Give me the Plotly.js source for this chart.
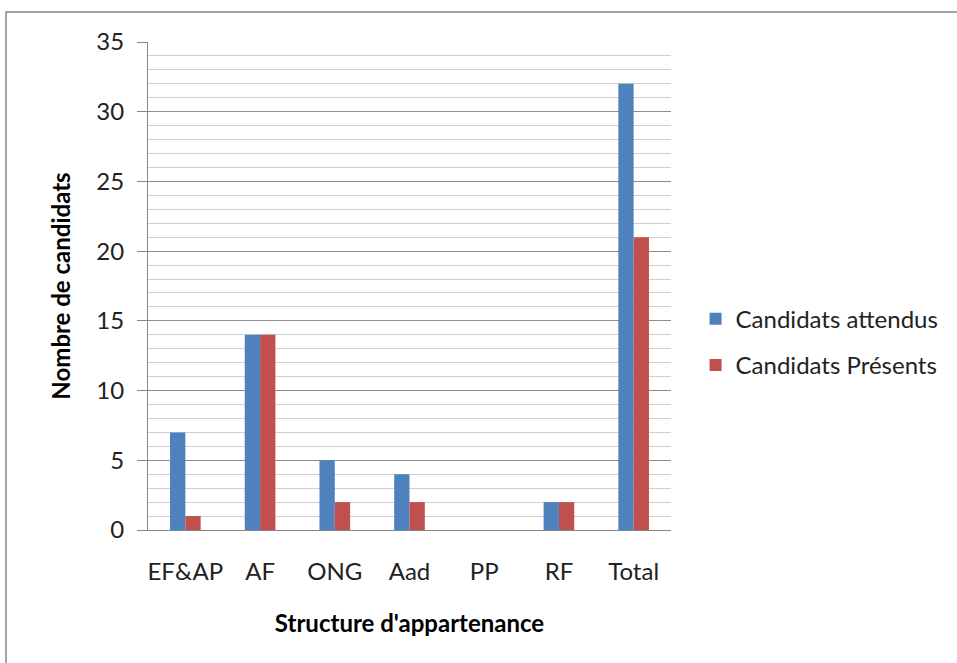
<!DOCTYPE html>
<html>
<head>
<meta charset="utf-8">
<script src="https://cdn.plot.ly/plotly-3.0.1.min.js"></script>
<style>html,body{margin:0;padding:0;background:#fff;}</style>
</head>
<body>
<div id="chart" style="width:957px;height:663px;"></div>
<script>
const categories = ["EF&AP", "AF", "ONG", "Aad", "PP", "RF", "Total"];
const attendus = [7, 14, 5, 4, 0, 2, 32];
const presents = [1, 14, 2, 2, 0, 2, 21];
const seriesNames = ["Candidats attendus", "Candidats Présents"];
const yTicks = [0, 5, 10, 15, 20, 25, 30, 35];

const font = "Lato, 'Open Sans', sans-serif";
const traces = [
  {type: "bar", x: categories, y: attendus, name: seriesNames[0], marker: {color: "#4F81BD"}, legendgroup: "a"},
  {type: "bar", x: categories, y: presents, name: seriesNames[1], marker: {color: "#C0504D"}, legendgroup: "b"}
];
const layout = {
  width: 957, height: 663,
  margin: {l: 148, r: 286, t: 42, b: 133},
  paper_bgcolor: "#fff", plot_bgcolor: "#fff",
  barmode: "group", bargap: 0.59, bargroupgap: 0,
  font: {family: font, color: "#000"},
  xaxis: {
    type: "category",
    showline: true, linecolor: "#888", linewidth: 1,
    ticks: "", tickfont: {size: 24, family: font, color: "#222"},
    ticklabelstandoff: 20,
    title: {text: "Structure d'appartenance", font: {size: 24, family: font, weight: "bold"}, standoff: 31}
  },
  yaxis: {
    range: [0, 35], tickvals: yTicks, ticktext: yTicks.map(String),
    showline: true, linecolor: "#888", linewidth: 1,
    ticks: "outside", ticklen: 10, tickcolor: "#888",
    showgrid: true, gridcolor: "#8c8c8c", gridwidth: 1,
    minor: {dtick: 1, showgrid: true, gridcolor: "#cfcfcf", gridwidth: 1, ticks: ""},
    zeroline: false,
    tickfont: {size: 24, family: font, color: "#222"},
    ticklabelstandoff: 8,
    title: {text: "Nombre de candidats", font: {size: 24, family: font, weight: "bold"}, standoff: 18}
  },
  legend: {
    x: 1.047, y: 0.385, xanchor: "left", yanchor: "middle",
    font: {size: 24, family: font, color: "#222"},
    tracegroupgap: 12, traceorder: "grouped",
    itemwidth: 30
  },
  showlegend: true,
  shapes: [{
    type: "rect", xref: "paper", yref: "paper",
    x0: -0.2715, x1: 1.56, y0: -0.28, y1: 1.0615,
    line: {color: "#888", width: 1.5}, fillcolor: "rgba(0,0,0,0)", layer: "below"
  }]
};
Plotly.newPlot("chart", traces, layout, {displayModeBar: false, staticPlot: true});
</script>
</body>
</html>
